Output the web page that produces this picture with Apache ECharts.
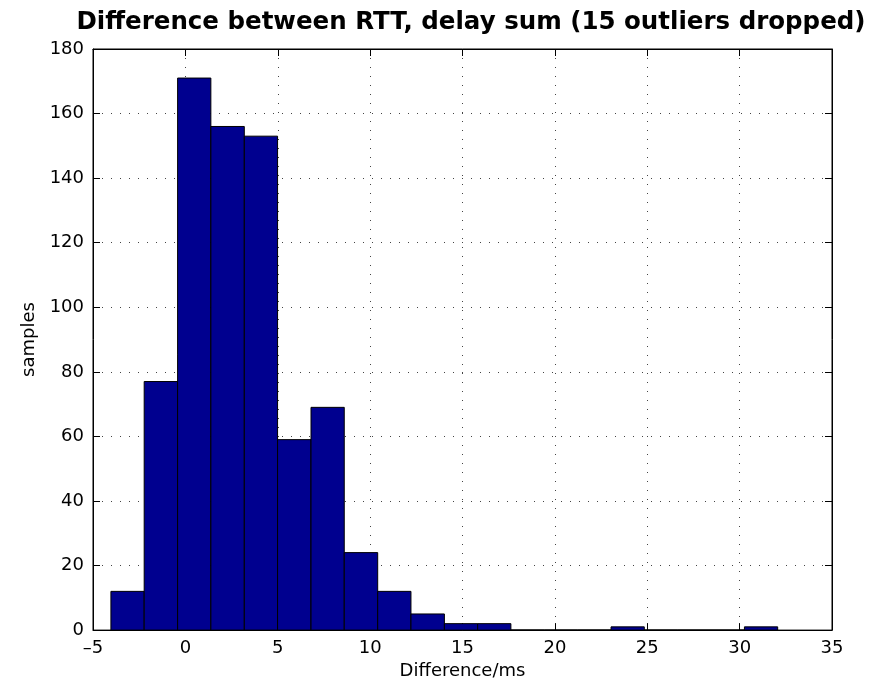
<!DOCTYPE html>
<html>
<head>
<meta charset="utf-8">
<script src="https://cdn.jsdelivr.net/npm/echarts@6/dist/echarts.min.js"></script>
<style>
  html, body { margin: 0; padding: 0; background: #fff; }
  #chart { width: 890px; height: 685px; }
</style>
</head>
<body>
<div id="chart"></div>
<script>
// histogram bin edges (ms) and counts per bin
const binEdges = [-4.03, -2.23, -0.42, 1.38, 3.19, 4.99, 6.80, 8.60, 10.41, 12.21, 14.02,
  15.82, 17.62, 19.43, 21.23, 23.04, 24.84, 26.65, 28.45, 30.26, 32.06];
const counts = [12, 77, 171, 156, 153, 59, 69, 24, 12, 5, 2, 2, 0, 0, 0, 1, 0, 0, 0, 1];
const xTicks = [-5, 0, 5, 10, 15, 20, 25, 30, 35];
const yTicks = [0, 20, 40, 60, 80, 100, 120, 140, 160, 180];

const chart = echarts.init(document.getElementById('chart'));

const fontFamily = '"DejaVu Sans", sans-serif';
const dotted = { show: true, lineStyle: { color: '#444', width: 1, type: [1, 8] } };
const tick = { show: true, inside: true, length: 7, lineStyle: { color: '#000' } };
const frameLine = { show: true, onZero: false, lineStyle: { color: '#000' } };

const bins = counts.map((c, i) => [binEdges[i], binEdges[i + 1], c]);

chart.setOption({
  animation: false,
  title: {
    text: 'Difference between RTT, delay sum (15 outliers dropped)',
    left: 466,
    top: 5,
    textAlign: 'center',
    textStyle: { fontFamily, fontSize: 24.5, fontWeight: 'bold', color: '#000' }
  },
  grid: {
    left: 93,
    right: 58,
    top: 49,
    bottom: 53,
    show: true,
    borderColor: '#000',
    borderWidth: 1,
    backgroundColor: '#fff'
  },
  xAxis: [{
    type: 'value',
    min: xTicks[0],
    max: xTicks[xTicks.length - 1],
    interval: 5,
    name: 'Difference/ms',
    nameLocation: 'middle',
    nameGap: 26,
    nameTextStyle: { fontFamily, fontSize: 18, color: '#000' },
    axisLine: frameLine,
    axisTick: tick,
    axisLabel: {
      fontFamily, fontSize: 18, color: '#000', margin: 9,
      formatter: v => String(v).replace('-', '\u2013')
    },
    splitLine: dotted
  }, {
    type: 'value',
    position: 'top',
    min: xTicks[0],
    max: xTicks[xTicks.length - 1],
    interval: 5,
    axisLine: frameLine,
    axisTick: tick,
    axisLabel: { show: false },
    splitLine: { show: false }
  }],
  yAxis: [{
    type: 'value',
    min: yTicks[0],
    max: yTicks[yTicks.length - 1],
    interval: 20,
    name: 'samples',
    nameLocation: 'middle',
    nameGap: 54,
    nameTextStyle: { fontFamily, fontSize: 18, color: '#000' },
    axisLine: frameLine,
    axisTick: tick,
    axisLabel: { fontFamily, fontSize: 18, color: '#000', margin: 9 },
    splitLine: dotted
  }, {
    type: 'value',
    position: 'right',
    min: yTicks[0],
    max: yTicks[yTicks.length - 1],
    interval: 20,
    axisLine: frameLine,
    axisTick: tick,
    axisLabel: { show: false },
    splitLine: { show: false }
  }],
  series: [{
    type: 'custom',
    xAxisIndex: 0,
    yAxisIndex: 0,
    data: bins,
    renderItem: (params, api) => {
      const p0 = api.coord([api.value(0), 0]);
      const p1 = api.coord([api.value(1), api.value(2)]);
      return {
        type: 'rect',
        shape: { x: p0[0], y: p1[1], width: p1[0] - p0[0], height: p0[1] - p1[1] },
        style: { fill: '#00008f', stroke: '#000', lineWidth: 1 }
      };
    }
  }]
});
</script>
</body>
</html>
